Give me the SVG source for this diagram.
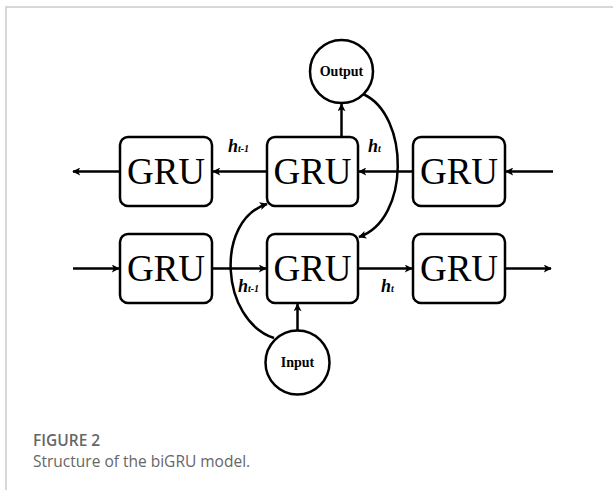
<svg xmlns="http://www.w3.org/2000/svg" width="613" height="490" viewBox="0 0 613 490">
<style>
.box{fill:#fff;stroke:#000;stroke-width:2.5}
.circ{fill:#fff;stroke:#000;stroke-width:2.5}
.ln{fill:none;stroke:#000;stroke-width:2.5}
.gru{font-family:"Liberation Serif",serif;font-size:37px;text-anchor:middle;fill:#000}
.ct{font-family:"Liberation Serif",serif;font-size:14px;font-weight:bold;text-anchor:middle;fill:#000}
.h{font-family:"Liberation Serif",serif;font-size:18px;font-weight:bold;font-style:italic;fill:#000}
.sub{font-size:10px}
.cap{font-family:"Open Sans","Liberation Sans",sans-serif;fill:#666;font-size:15.5px}
</style>
<defs>
<marker id="ah" viewBox="0 0 10 10" refX="9" refY="5" markerWidth="9" markerHeight="8" markerUnits="userSpaceOnUse" orient="auto">
<path d="M0,0 L10,5 L0,10 L2.5,5 z" fill="#000"/>
</marker>
</defs>
<rect x="0" y="0" width="613" height="490" fill="#fff"/>
<path d="M6,490 L6,7 L613,7" fill="none" stroke="#ccc" stroke-width="1.5"/>
<g id="connectors">
<line class="ln" x1="120" y1="171.5" x2="73" y2="171.5" marker-end="url(#ah)"/>
<line class="ln" x1="267" y1="171.5" x2="213" y2="171.5" marker-end="url(#ah)"/>
<line class="ln" x1="413" y1="171.5" x2="359" y2="171.5" marker-end="url(#ah)"/>
<line class="ln" x1="553" y1="171.5" x2="506" y2="171.5" marker-end="url(#ah)"/>
<line class="ln" x1="73" y1="268.5" x2="119" y2="268.5" marker-end="url(#ah)"/>
<line class="ln" x1="212" y1="268.5" x2="266" y2="268.5" marker-end="url(#ah)"/>
<line class="ln" x1="358" y1="268.5" x2="412" y2="268.5" marker-end="url(#ah)"/>
<line class="ln" x1="505" y1="268.5" x2="551" y2="268.5" marker-end="url(#ah)"/>
<line class="ln" x1="341.5" y1="137" x2="341.5" y2="104" marker-end="url(#ah)"/>
<line class="ln" x1="297.5" y1="331" x2="297.5" y2="304" marker-end="url(#ah)"/>
<path class="ln" d="M274,338 C220,320 215,220 267,204" marker-end="url(#ah)"/>
<path class="ln" d="M363,94 C410,115 410,220 359,237" marker-end="url(#ah)"/>
</g>
<g id="gru-b1"><rect class="box" x="120" y="137" width="92" height="69" rx="8"/><text class="gru" x="166" y="184">GRU</text></g>
<g id="gru-b2"><rect class="box" x="267" y="137" width="91" height="69" rx="8"/><text class="gru" x="312.5" y="184">GRU</text></g>
<g id="gru-b3"><rect class="box" x="413" y="137" width="92" height="69" rx="8"/><text class="gru" x="459" y="184">GRU</text></g>
<g id="gru-f1"><rect class="box" x="120" y="234" width="92" height="69" rx="8"/><text class="gru" x="166" y="281">GRU</text></g>
<g id="gru-f2"><rect class="box" x="267" y="234" width="91" height="69" rx="8"/><text class="gru" x="312.5" y="281">GRU</text></g>
<g id="gru-f3"><rect class="box" x="413" y="234" width="92" height="69" rx="8"/><text class="gru" x="459" y="281">GRU</text></g>
<g id="output"><circle class="circ" cx="341.5" cy="71.5" r="31.5"/><text class="ct" x="341.5" y="76">Output</text></g>
<g id="input"><circle class="circ" cx="297.5" cy="362.5" r="32"/><text class="ct" x="297.5" y="367">Input</text></g>
<g id="labels">
<text class="h" x="228" y="152">h<tspan class="sub">t-1</tspan></text>
<text class="h" x="368" y="152">h<tspan class="sub">t</tspan></text>
<text class="h" x="238" y="292">h<tspan class="sub">t-1</tspan></text>
<text class="h" x="381" y="292">h<tspan class="sub">t</tspan></text>
</g>
<text class="cap" x="33" y="446" font-weight="600">FIGURE 2</text>
<text class="cap" x="33" y="467">Structure of the biGRU model.</text>
</svg>
